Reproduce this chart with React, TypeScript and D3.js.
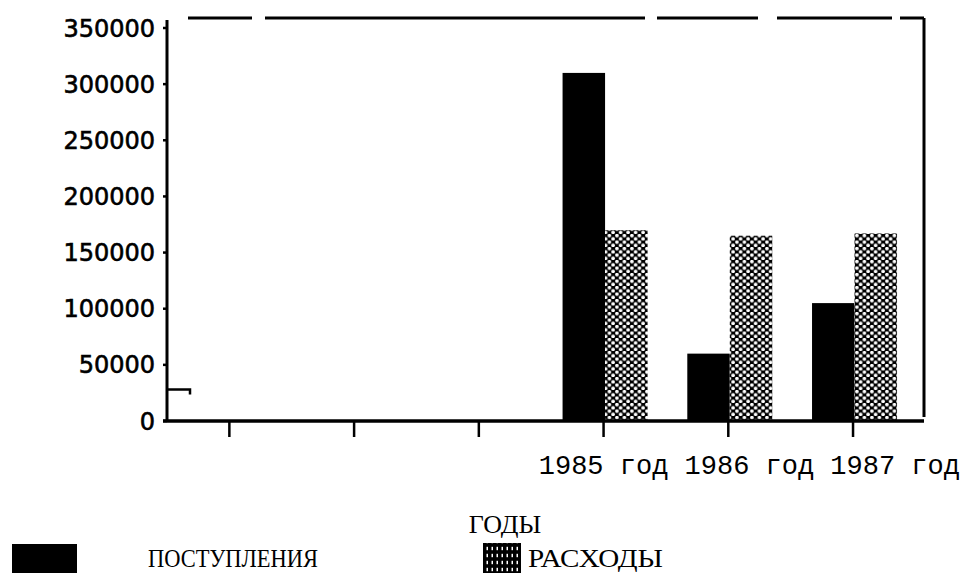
import * as d3 from 'd3'

// values
const categories = ['', '', '', '1985 год', '1986 год', '1987 год']
const seriesNames = ['ПОСТУПЛЕНИЯ', 'РАСХОДЫ']
const income = [0, 0, 0, 310000, 60000, 105000]
const expenses = [0, 0, 0, 170000, 165000, 167000]
const yTicks = [0, 50000, 100000, 150000, 200000, 250000, 300000, 350000]
const bracketValue = 28000
const axisTitle = 'ГОДЫ'

const W = 964
const H = 573
const margin = { top: 28, right: 40, bottom: 152, left: 167 }

export default function App() {
  const y = d3
    .scaleLinear()
    .domain([0, 350000])
    .range([H - margin.bottom, margin.top])

  const x = d3
    .scaleBand<number>()
    .domain(d3.range(categories.length))
    .range([margin.left, 915.4])

  const xSub = d3.scaleBand<string>().domain(seriesNames).range([0, 85])

  const y0 = y(0)
  const right = W - margin.right
  const frameTop = y(350000) - 10
  const center = (i: number) => (x(i) as number) + x.bandwidth() / 2
  const rows = categories.map((c, i) => ({ i, c, values: [income[i], expenses[i]] }))

  // x labels were typed as one monospace line in the original
  const firstLabeled = categories.findIndex((c) => c !== '')
  const labelLine = categories.filter((c) => c !== '').join(' ')
  const charW = 16.2

  return (
    <svg
      width={W}
      height={H}
      style={{ position: 'absolute', left: 0, top: 0, background: '#fff' }}
    >
      <defs>
        <pattern id="dots" width={7.5} height={6.5} patternUnits="userSpaceOnUse">
          <rect width={7.5} height={6.5} fill="#000" />
          <circle cx={1.9} cy={1.6} r={1.8} fill="#fff" />
          <circle cx={5.6} cy={4.9} r={1.8} fill="#fff" />
        </pattern>
        <pattern id="grid" width={5} height={7} patternUnits="userSpaceOnUse">
          <rect width={5} height={7} fill="#000" />
          <rect x={1.5} y={0.8} width={1.5} height={3.4} fill="#fff" />
        </pattern>
      </defs>

      {/* frame: broken top line, solid right side */}
      <line
        x1={188}
        x2={right}
        y1={frameTop}
        y2={frameTop}
        stroke="#000"
        strokeWidth={3}
        strokeDasharray="64 13 380 12 101 19 115 8 40"
      />
      <line x1={right} x2={right} y1={frameTop} y2={y0 - 4} stroke="#000" strokeWidth={3} />

      {/* bars */}
      {rows.map((r) => (
        <g key={r.i}>
          {r.values.map((v, k) =>
            v > 0 ? (
              <rect
                key={k}
                x={center(r.i) - 41 + (xSub(seriesNames[k]) as number)}
                y={y(v)}
                width={xSub.bandwidth()}
                height={y0 - y(v)}
                fill={k === 0 ? '#000' : 'url(#dots)'}
              />
            ) : null
          )}
        </g>
      ))}

      {/* y axis */}
      <line x1={margin.left} x2={margin.left} y1={frameTop + 2} y2={y0} stroke="#000" strokeWidth={3} />
      {yTicks.map((t) => (
        <g key={t} transform={`translate(0,${y(t)})`}>
          <line x1={margin.left - 4} x2={margin.left} stroke="#000" strokeWidth={2.5} />
          <text
            x={155}
            dy="0.36em"
            textAnchor="end"
            fontFamily="DejaVu Sans"
            fontSize={24}
            fill="#000"
            stroke="#000"
            strokeWidth={0.6}
          >
            {t}
          </text>
        </g>
      ))}
      <path
        d={`M${margin.left},${y(bracketValue)}H${margin.left + 23}V${y(bracketValue) + 5}`}
        fill="none"
        stroke="#000"
        strokeWidth={2.5}
      />

      {/* x axis */}
      <line x1={margin.left - 4} x2={right} y1={y0} y2={y0} stroke="#000" strokeWidth={3.5} />
      {rows.map((r) => (
        <line
          key={r.i}
          x1={center(r.i)}
          x2={center(r.i)}
          y1={y0}
          y2={y0 + 16}
          stroke="#000"
          strokeWidth={2.5}
        />
      ))}
      <text
        x={center(firstLabeled) - 4 * charW}
        y={474}
        fontFamily="Liberation Mono"
        fontSize={27}
        textLength={labelLine.length * charW}
        fill="#000"
      >
        {labelLine}
      </text>

      {/* axis title and legend */}
      <text x={505} y={533} textAnchor="middle" fontFamily="Liberation Serif" fontSize={26} fill="#000">
        {axisTitle}
      </text>
      <rect x={12} y={544} width={65} height={30} fill="#000" />
      <text
        x={148}
        y={567}
        fontFamily="Liberation Serif"
        fontSize={26}
        textLength={170}
        lengthAdjust="spacingAndGlyphs"
        fill="#000"
      >
        {seriesNames[0]}
      </text>
      <rect x={483} y={543} width={38} height={30} fill="url(#grid)" />
      <text
        x={528}
        y={567}
        fontFamily="Liberation Serif"
        fontSize={26}
        textLength={135}
        lengthAdjust="spacingAndGlyphs"
        fill="#000"
      >
        {seriesNames[1]}
      </text>
    </svg>
  )
}
